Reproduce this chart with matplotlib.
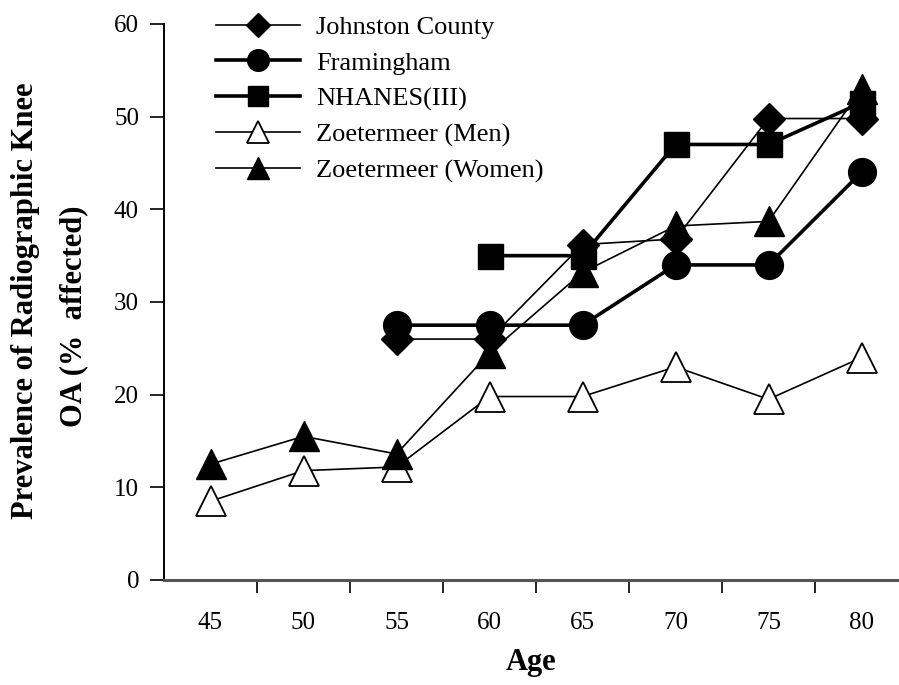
import numpy as np
import matplotlib
matplotlib.use("Agg")
import matplotlib.pyplot as plt

ages = ["45", "50", "55", "60", "65", "70", "75", "80"]
nan = np.nan

johnston = [nan, nan, 26.0, 26.0, 36.2, 36.8, 49.8, 49.8]
framingham = [nan, nan, 27.5, 27.5, 27.5, 34.0, 34.0, 44.0]
nhanes = [nan, nan, nan, 35.0, 35.0, 47.0, 47.0, 51.5]
zoet_men = [8.5, 11.8, 12.2, 19.8, 19.8, 23.0, 19.5, 24.0]
zoet_women = [12.5, 15.5, 13.6, 24.5, 33.2, 38.2, 38.7, 53.0]

plt.rcParams['font.family'] = ['Liberation Serif', 'DejaVu Serif']

fig = plt.figure(figsize=(8.99, 6.85), dpi=100)
ax = fig.add_axes([164/899, 105/685, 1 - 164/899, (580-24)/685])

x = np.arange(len(ages))
ax.plot(x, johnston, color='black', lw=1.2, marker='D', ms=16, label='Johnston County')
ax.plot(x, framingham, color='black', lw=2.6, marker='o', ms=20, label='Framingham')
ax.plot(x, nhanes, color='black', lw=2.6, marker='s', ms=18, label='NHANES(III)')
ax.plot(x, zoet_men, color='black', lw=1.2, marker='^', ms=21, mfc='white', mew=1.3, label='Zoetermeer (Men)')
ax.plot(x, zoet_women, color='black', lw=1.2, marker='^', ms=21, label='Zoetermeer (Women)')

ax.set_ylim(0, 60)
ax.set_xlim(-0.5, 7.5 - 9/93)
ax.set_yticks(range(0, 61, 10))
ax.set_xticks(x)
ax.set_xticklabels(ages)
ax.set_xticks(x[:-1] + 0.5, minor=True)
ax.tick_params(axis='x', which='major', length=0, pad=23, labelsize=18)
ax.tick_params(axis='x', which='minor', length=9.5, width=1.2, direction='out')
ax.tick_params(axis='y', length=10, width=1.2, direction='out', pad=8, labelsize=18)

for s in ['top', 'right']:
    ax.spines[s].set_visible(False)
ax.spines['left'].set_linewidth(1.4)
ax.spines['bottom'].set_linewidth(2.2)
ax.spines['bottom'].set_color('#555555')

ax.set_xlabel('Age', fontsize=22, fontweight='bold', labelpad=10)
fig.text(26/899, 1 - 301/685, 'Prevalence of Radiographic Knee', rotation=90,
         fontsize=22, fontweight='bold', ha='center', va='center')
fig.text(74/899, 1 - 316/685, 'OA (%  affected)', rotation=90,
         fontsize=22, fontweight='bold', ha='center', va='center')

leg = ax.legend(loc='upper left', bbox_to_anchor=(0.038, 1.058), frameon=False,
                fontsize=19, markerscale=0.78, handlelength=3.2, labelspacing=0.46,
                handletextpad=0.6)

fig.savefig('out.png', dpi=100)
